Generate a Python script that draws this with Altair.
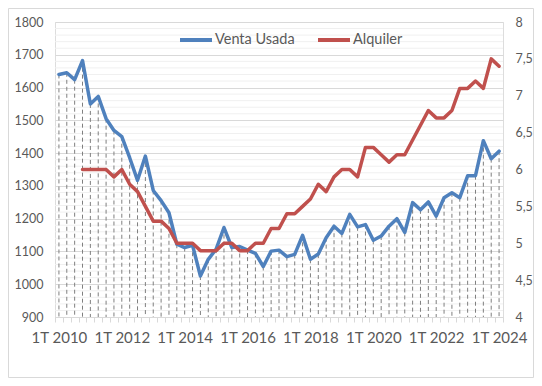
import altair as alt
import pandas as pd

# ---- data ----
start_year = 2010
venta_usada = [1640, 1645, 1624, 1682, 1550, 1573, 1505, 1469, 1450, 1386,
               1317, 1391, 1286, 1255, 1218, 1122, 1112, 1119, 1025, 1076,
               1107, 1173, 1112, 1115, 1104, 1094, 1054, 1101, 1104, 1084,
               1091, 1149, 1076, 1092, 1142, 1177, 1155, 1213, 1175, 1182,
               1134, 1147, 1177, 1200, 1158, 1249, 1227, 1251, 1208, 1264,
               1279, 1264, 1331, 1331, 1438, 1383, 1406]
alquiler_start = 3  # first value is 4T 2010
alquiler = [6.0, 6.0, 6.0, 6.0, 5.9, 6.0, 5.8, 5.7, 5.5,
            5.3, 5.3, 5.2,
            5.0, 5.0, 5.0, 4.9, 4.9, 4.9, 5.0, 5.0, 4.9, 4.9, 5.0, 5.0, 5.2, 5.2, 5.4, 5.4,
            5.5, 5.6, 5.8, 5.7, 5.9, 6.0, 6.0, 5.9, 6.3, 6.3, 6.2, 6.1,
            6.2, 6.2, 6.4, 6.6, 6.8, 6.7, 6.7, 6.8, 7.1, 7.1, 7.2, 7.1, 7.5, 7.4]
left_ticks = [900, 1000, 1100, 1200, 1300, 1400, 1500, 1600, 1700, 1800]
left_minor = [v for v in range(900, 1801, 20) if v % 100 != 0]
right_ticks = [4, 4.5, 5, 5.5, 6, 6.5, 7, 7.5, 8]
series_names = ["Venta Usada", "Alquiler"]
series_colors = ["#4F81BD", "#C0504D"]

n = len(venta_usada)
quarters = [f"{i % 4 + 1}T {start_year + i // 4}" for i in range(n)]

df_v = pd.DataFrame({"i": list(range(n)), "q": quarters, "v": venta_usada,
                     "serie": "Venta Usada"})
df_a = pd.DataFrame({"i": list(range(alquiler_start, n)),
                     "q": quarters[alquiler_start:], "a": alquiler,
                     "serie": "Alquiler"})
df_minor = pd.DataFrame({"v": left_minor})

FONT = "Lato"
TXT = "#595959"
W, H = 448, 295
band = W / n

x_scale = alt.Scale(domain=[-0.5, n - 0.5], nice=False, zero=False)
x_axis = alt.Axis(
    values=[k - 0.5 for k in range(n + 1)],
    labelExpr=f"(datum.value + 0.5) % 8 == 0 ? '1T ' + ({start_year} + (datum.value + 0.5) / 4) : ''",
    labelOffset=band / 2, labelOverlap=False, labelFlush=False,
    tickSize=5, tickColor="#d9d9d9", domainColor="#d9d9d9", grid=False,
    labelFont=FONT, labelFontSize=15, labelColor=TXT, labelPadding=8, title=None,
)
X = alt.X("i:Q", scale=x_scale, axis=x_axis)

yl_scale = alt.Scale(domain=[900, 1800], nice=False, zero=False)
yl_axis = alt.Axis(values=left_ticks, format="d", grid=True, gridColor="#d9d9d9", ticks=False,
                   domain=False, labelFont=FONT, labelFontSize=12.5, labelColor=TXT,
                   labelPadding=12, title=None)
yr_scale = alt.Scale(domain=[4, 8], nice=False, zero=False)
yr_axis = alt.Axis(orient="right", values=right_ticks, grid=False, ticks=False, domain=False,
                   labelExpr="replace(toString(datum.value), '.', ',')",
                   labelFont=FONT, labelFontSize=12.5, labelColor=TXT, labelPadding=12,
                   title=None)

color = alt.Color("serie:N", scale=alt.Scale(domain=series_names, range=series_colors),
                  legend=alt.Legend(orient="none", legendX=123, legendY=0,
                                    direction="horizontal", symbolType="stroke",
                                    symbolSize=1024, symbolStrokeWidth=4,
                                    labelFont=FONT, labelFontSize=14.5, labelColor=TXT,
                                    labelOffset=1, columnPadding=15, padding=0, title=None))

frame = alt.Chart(pd.DataFrame({"k": [0]})).mark_rect(
    fill=None, stroke="#d9d9d9", strokeWidth=1).encode(
    x=alt.value(-46.5), x2=alt.value(W + 30.5), y=alt.value(-13.5), y2=alt.value(H + 60.5))

minor_grid = alt.Chart(df_minor).mark_rule(color="#f0f0f0", strokeWidth=1).encode(
    y=alt.Y("v:Q", scale=yl_scale, axis=yl_axis))
drops = alt.Chart(df_v).mark_rule(color="#7f7f7f", strokeDash=[4, 3], strokeWidth=1).encode(
    x=X, y=alt.Y("v:Q", scale=yl_scale, axis=yl_axis), y2=alt.datum(900))
blue = alt.Chart(df_v).mark_line(strokeWidth=3.5, strokeJoin="round", strokeCap="round").encode(
    x=X, y=alt.Y("v:Q", scale=yl_scale, axis=yl_axis), color=color)
left = alt.layer(minor_grid, drops, blue)

red = alt.Chart(df_a).mark_line(strokeWidth=3.5, strokeJoin="round", strokeCap="round").encode(
    x=X, y=alt.Y("a:Q", scale=yr_scale, axis=yr_axis), color=color)

chart = alt.layer(frame, left, red).resolve_scale(y="independent").properties(
    width=W, height=H,
    autosize=alt.AutoSizeParams(type="none"),
    padding={"left": 47, "top": 14, "right": 31, "bottom": 61},
).configure_view(stroke=None).configure(background="white")

chart.save("out.html", embed_options={"renderer": "svg", "actions": False})
